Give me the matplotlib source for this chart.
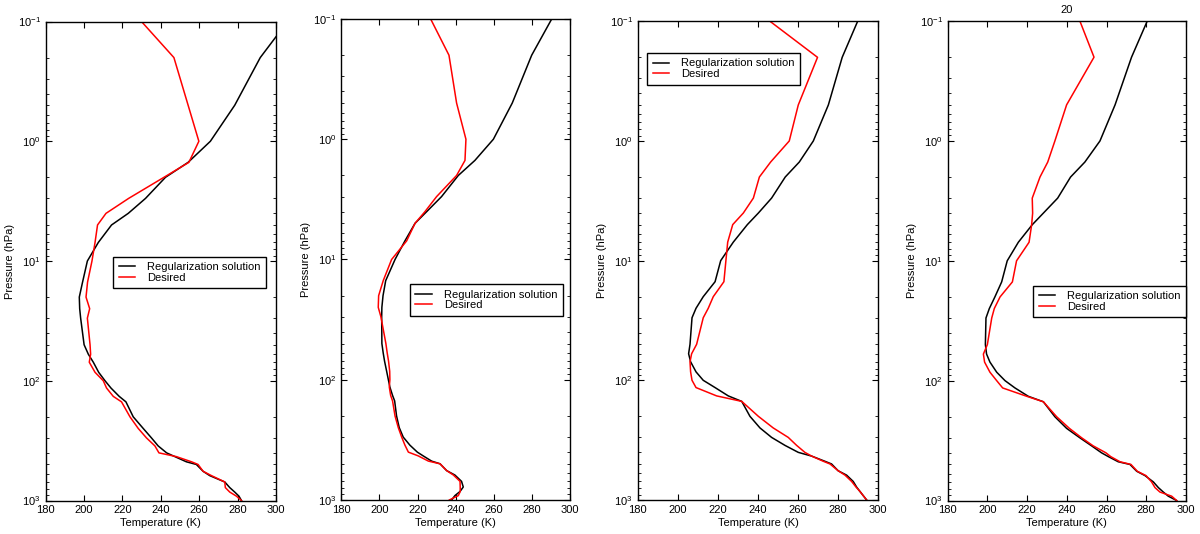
import numpy as np
import matplotlib
matplotlib.use("Agg")
import matplotlib.pyplot as plt
from matplotlib.ticker import LogLocator, NullFormatter

plt.rcParams["font.family"] = ["Liberation Sans", "DejaVu Sans"]
plt.rcParams["font.size"] = 8

# pressure levels (hPa) shared by all profiles
pressure = [0.1, 0.2, 0.5, 1, 1.5, 2, 3, 4, 5, 7, 10, 15, 20, 25, 30, 50, 60, 70,
            85, 100, 115, 135, 150, 200, 250, 300, 350, 400, 430, 475, 500, 570,
            620, 700, 780, 850, 920, 1000]

# panel 1
reg_1 = [306, 291.8, 278.5, 265.8, 254.2, 242.4, 232, 223, 214.3, 207.4, 201.7,
         199.2, 197.5, 197.7, 198.2, 200, 202.2, 204.8, 207.6, 210.9, 214, 218.3,
         221.8, 225.6, 230.8, 235.1, 238.6, 243, 247.3, 253.3, 258.5, 262, 265.5,
         273.3, 275.9, 278.5, 280.7, 282]
des_1 = [229.9, 246.8, 254.2, 259.8, 254.6, 241.6, 223.2, 211.4, 207, 205.7, 204.1,
         201.8, 201, 202.9, 201.7, 203.1, 203.4, 202.7, 205.7, 210, 211.7, 215.2,
         219.5, 223.9, 228.2, 232.5, 236.9, 239, 248.1, 256, 259.4, 262, 266.4,
         273.3, 273.6, 275.9, 279.4, 282]

# panel 2
reg_2 = [290.4, 279.9, 269.7, 259.8, 250.1, 241.4, 232.6, 224.8, 218.7, 213.4, 208.2,
         203.3, 201.9, 201.3, 201.2, 201.3, 202, 202.7, 203.8, 204.7, 205.5, 206.9,
         208, 209, 210.4, 212.5, 216, 219.9, 223, 227.4, 231.8, 235.3, 239.6,
         243.1, 244, 242.3, 239.6, 237.9]
des_2 = [226.9, 236.5, 240.5, 245.4, 244.9, 240.5, 230, 223.9, 218.7, 214.3, 206.4,
         202, 199.6, 199.4, 200.8, 203.4, 204.1, 204.8, 205.4, 205.5, 205.2, 205.9,
         206.9, 208.2, 209.9, 211.7, 213.4, 215.2, 220.4, 225.7, 231.8, 235.3, 238.8,
         242.3, 242.4, 242.4, 241.4, 236.7]

# panel 3
reg_3 = [289.7, 282, 275.1, 267.6, 260.6, 253.6, 246.8, 240.2, 234.7, 227.7, 221.4,
         218.6, 212.7, 209.1, 207.1, 206.1, 205.4, 206.4, 209.1, 212.7, 218.6, 225.2,
         231.9, 236, 241, 246.8, 253.5, 260.1, 266.8, 273.4, 276.7, 280, 284.2,
         287.5, 289.2, 290.9, 292.5, 294.2]
des_3 = [246, 269.7, 260.1, 255.6, 246.3, 240.7, 237.7, 232.7, 227.4, 224.9, 224,
         223, 217.7, 215.2, 212.7, 209.4, 206.9, 206.1, 206.4, 207.1, 209.1, 219.4,
         231.9, 240.2, 247.6, 255.1, 259.3, 263.4, 266.8, 272.6, 275.9, 280, 283.4,
         286.7, 288.9, 290.9, 292.5, 294.2]

# panel 4
reg_4 = [280.5, 272.6, 264.3, 256.7, 249.1, 241.9, 235.4, 228.2, 222.6, 215.6, 210,
         207.2, 203.8, 201, 199.3, 199, 199.6, 201.3, 204.7, 208.9, 213.9, 220.6,
         228.2, 234, 239.9, 246.6, 252.5, 257.5, 260.9, 265.9, 271.8, 275.2, 279.4,
         283.6, 286.1, 288.6, 291.1, 295.3]
des_4 = [246.6, 253.7, 239.9, 234, 230.4, 226.5, 222.6, 222.8, 222.3, 221, 214.7,
         212.6, 206.4, 203.5, 202.2, 200, 198, 198.6, 201.3, 204.7, 207.7, 219.8,
         228.2, 234.9, 241.3, 247.5, 253.3, 259.7, 262.1, 266.8, 272.3, 275.5, 279.9,
         282.7, 284.4, 286.9, 292.8, 295.3]

profiles = [(reg_1, des_1), (reg_2, des_2), (reg_3, des_3), (reg_4, des_4)]
titles = ["", "", "", "20"]

# axes boxes [left, bottom, width, height] in figure fraction
boxes = [[0.0381, 0.0627, 0.1919, 0.8970],
         [0.2844, 0.0637, 0.1906, 0.9007],
         [0.5314, 0.0637, 0.2005, 0.8964],
         [0.7897, 0.0627, 0.1986, 0.8978]]
legend_anchor = [(0.292, 0.509), (0.300, 0.449), (0.0387, 0.934), (0.358, 0.448)]

fig = plt.figure(figsize=(12, 5.34), dpi=100)

for i, (reg, des) in enumerate(profiles):
    ax = fig.add_axes(boxes[i])
    ax.plot(reg, pressure, color="black", lw=1.1, label="Regularization solution")
    ax.plot(des, pressure, color="red", lw=1.1, label="Desired")
    ax.set_yscale("log")
    ax.set_ylim(1000, 0.1)
    ax.set_xlim(180, 300)
    ax.set_xticks(np.arange(180, 301, 20))
    ax.yaxis.set_major_locator(LogLocator(base=10, numticks=10))
    ax.yaxis.set_minor_locator(LogLocator(base=10, subs=np.arange(2, 10), numticks=20))
    ax.yaxis.set_minor_formatter(NullFormatter())
    ax.tick_params(which="both", direction="in", top=True, right=True, labelsize=8)
    ax.tick_params(which="major", length=4, width=0.8)
    ax.tick_params(which="minor", length=2, width=0.6)
    for s in ax.spines.values():
        s.set_linewidth(1.0)
    ax.set_xlabel("Temperature (K)", fontsize=8, labelpad=2)
    ax.set_ylabel("Pressure (hPa)", fontsize=8, labelpad=2)
    if titles[i]:
        ax.set_title(titles[i], fontsize=8, pad=6)
    leg = ax.legend(loc="upper left", bbox_to_anchor=legend_anchor[i], borderaxespad=0,
                    fancybox=False, framealpha=1, edgecolor="black", fontsize=8,
                    handlelength=1.5, handletextpad=1.1, borderpad=0.5, labelspacing=0.05)
    leg.get_frame().set_linewidth(1.0)

fig.savefig("out.png", dpi=100)
